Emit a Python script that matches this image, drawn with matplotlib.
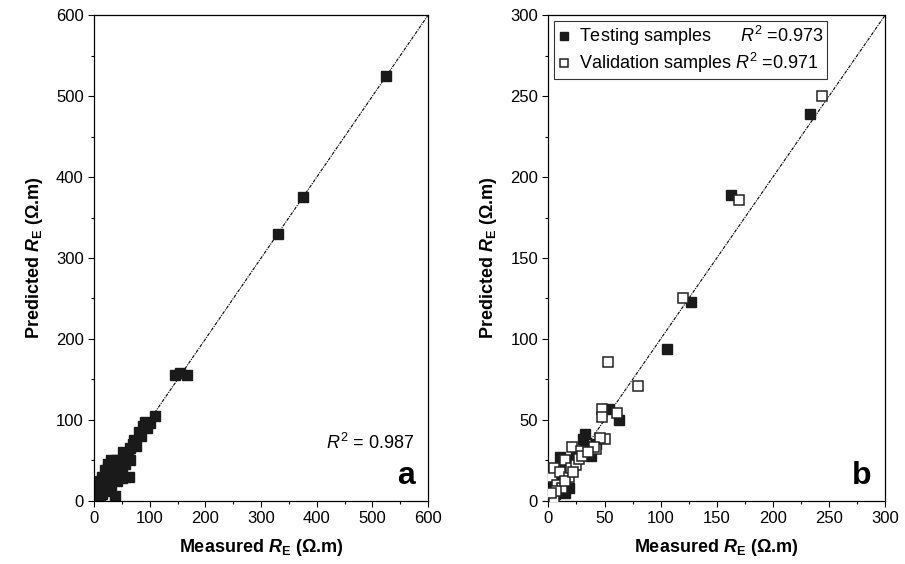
import numpy as np
import matplotlib
matplotlib.use('Agg')
import matplotlib.pyplot as plt
from matplotlib.ticker import MultipleLocator

plt.rcParams['font.family'] = ['Liberation Sans', 'DejaVu Sans']
plt.rcParams['mathtext.fontset'] = 'custom'
plt.rcParams['mathtext.rm'] = 'Liberation Sans'
plt.rcParams['mathtext.it'] = 'Liberation Sans:italic'
plt.rcParams['mathtext.bf'] = 'Liberation Sans:bold'
plt.rcParams['mathtext.bfit'] = 'Liberation Sans:bold:italic'

# panel a: all samples
a_meas = [525, 375, 330, 145, 155, 167, 110, 100, 92, 88, 95, 85, 80, 72, 70, 65, 60, 55, 52,
          48, 45, 40, 38, 35, 30, 28, 25, 22, 20, 18, 15, 12, 10, 8, 5, 3, 2, 6, 10, 15, 20, 25,
          30, 35, 40, 45, 50, 62, 50, 38, 30, 25, 20, 15, 10, 5, 42, 55, 65, 75, 20, 25, 30, 35, 40]
a_pred = [525, 375, 330, 156, 158, 155, 105, 96, 97, 92, 90, 80, 85, 75, 70, 65, 58, 55, 60,
          50, 48, 50, 45, 42, 38, 35, 40, 32, 28, 25, 22, 18, 15, 12, 8, 4, 10, 20, 25, 30, 38, 45,
          50, 30, 35, 38, 42, 30, 28, 6, 20, 15, 12, 8, 5, 2, 25, 45, 50, 68, 20, 25, 28, 36, 40]

# panel b: testing (filled) and validation (open)
test_meas = [233, 163, 127, 106, 54, 63, 33, 31, 42, 33, 10, 15, 18, 15, 5, 8, 20, 25, 3, 12,
             6, 22, 28, 38]
test_pred = [239, 189, 123, 94, 57, 50, 41, 38, 35, 33, 27, 20, 8, 5, 18, 14, 25, 28, 10, 12,
             4, 22, 30, 28]
val_meas = [244, 170, 120, 80, 53, 48, 48, 61, 50, 21, 29, 42, 46, 41, 5, 3, 5, 8, 10, 15, 18,
            20, 25, 27, 30, 35, 12, 7, 2, 15, 22]
val_pred = [250, 186, 125, 71, 86, 57, 52, 54, 38, 33, 31, 32, 39, 33, 2, 15, 20, 10, 18, 25,
            15, 20, 22, 26, 28, 30, 8, 6, 5, 12, 18]

r2_all = 0.987
r2_test = 0.973
r2_val = 0.971

fig = plt.figure(figsize=(9.05, 5.64), dpi=100)
ax1 = fig.add_axes([0.104, 0.112, 0.369, 0.861])
ax2 = fig.add_axes([0.606, 0.112, 0.372, 0.861])

xlab = r'Measured $\mathbfit{R}_\mathbf{E}$ (Ω.m)'
ylab = r'Predicted $\mathbfit{R}_\mathbf{E}$ (Ω.m)'

ax1.plot([0, 600], [0, 600], color='k', lw=0.8, ls=(0, (3, 1, 1, 1)), zorder=1)
ax1.plot(a_meas, a_pred, 's', color='#1a1a1a', ms=7.5, mec='#1a1a1a', zorder=2)
ax1.set_xlim(0, 600)
ax1.set_ylim(0, 600)
ax1.xaxis.set_major_locator(MultipleLocator(100))
ax1.xaxis.set_minor_locator(MultipleLocator(50))
ax1.yaxis.set_major_locator(MultipleLocator(100))
ax1.yaxis.set_minor_locator(MultipleLocator(50))
ax1.text(0.96, 0.12, r'$R^2$ = %.3f' % r2_all, transform=ax1.transAxes,
         ha='right', va='center', fontsize=13)
ax1.text(0.96, 0.02, 'a', transform=ax1.transAxes, ha='right', va='bottom',
         fontsize=23, fontweight='bold')

ax2.plot([0, 300], [0, 300], color='k', lw=0.8, ls=(0, (3, 1, 1, 1)), zorder=1)
ax2.plot(test_meas, test_pred, 's', color='#1a1a1a', ms=7, mec='#1a1a1a', zorder=2,
         label='Testing samples      $R^2$ =%.3f' % r2_test)
ax2.plot(val_meas, val_pred, 's', mfc='white', mec='#222222', mew=1.1, ms=7, zorder=3,
         label='Validation samples $R^2$ =%.3f' % r2_val)
ax2.set_xlim(0, 300)
ax2.set_ylim(0, 300)
ax2.xaxis.set_major_locator(MultipleLocator(50))
ax2.xaxis.set_minor_locator(MultipleLocator(25))
ax2.yaxis.set_major_locator(MultipleLocator(50))
ax2.yaxis.set_minor_locator(MultipleLocator(25))
leg = ax2.legend(loc='upper left', fontsize=13, frameon=True, fancybox=False,
                 edgecolor='k', handlelength=0.7, handletextpad=0.5, markerscale=0.8,
                 borderaxespad=0.3, borderpad=0.2, labelspacing=0.15)
leg.get_frame().set_linewidth(0.8)
ax2.text(0.96, 0.02, 'b', transform=ax2.transAxes, ha='right', va='bottom',
         fontsize=23, fontweight='bold')

for ax in (ax1, ax2):
    ax.set_xlabel(xlab, fontsize=13, fontweight='bold', labelpad=8)
    ax.set_ylabel(ylab, fontsize=13, fontweight='bold', labelpad=8)
    ax.tick_params(which='major', direction='out', length=4, width=0.8, labelsize=12)
    ax.tick_params(which='minor', direction='out', length=2.5, width=0.8)
    for s in ax.spines.values():
        s.set_linewidth(0.9)

fig.savefig('out.png', dpi=100)
